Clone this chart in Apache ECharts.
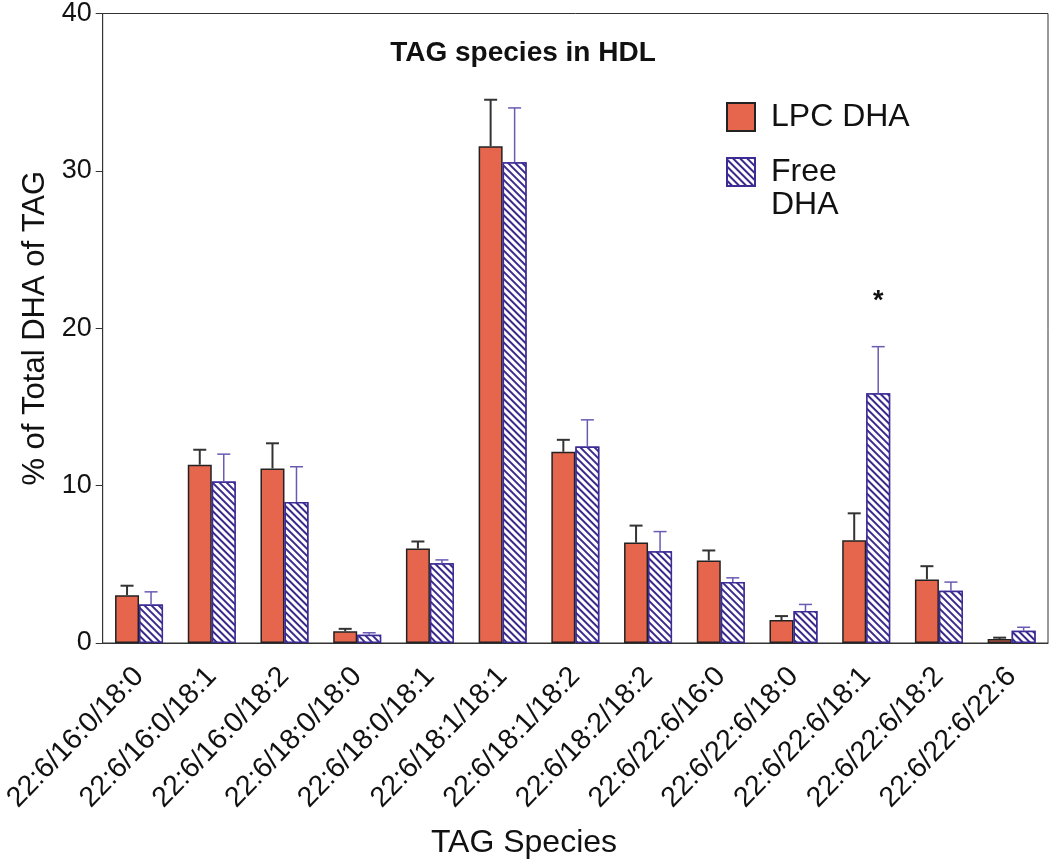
<!DOCTYPE html>
<html>
<head>
<meta charset="utf-8">
<script src="https://cdn.jsdelivr.net/npm/echarts@6/dist/echarts.min.js"></script>
<style>html,body{margin:0;padding:0;background:#fff;}#c{width:1050px;height:865px;}</style>
</head>
<body>
<div id="c"></div>
<script>
const categories = ['22:6/16:0/18:0','22:6/16:0/18:1','22:6/16:0/18:2','22:6/18:0/18:0','22:6/18:0/18:1','22:6/18:1/18:1','22:6/18:1/18:2','22:6/18:2/18:2','22:6/22:6/16:0','22:6/22:6/18:0','22:6/22:6/18:1','22:6/22:6/18:2','22:6/22:6/22:6'];
const lpcMean  = [3.04, 11.33, 11.09, 0.74, 6.00, 31.57, 12.15, 6.38, 5.24, 1.46, 6.53, 4.04, 0.25];
const lpcErr   = [0.60, 0.95, 1.60, 0.16, 0.45, 2.95, 0.76, 1.08, 0.64, 0.25, 1.71, 0.84, 0.09];
const freeMean = [2.45, 10.27, 8.96, 0.53, 5.07, 30.55, 12.49, 5.83, 3.87, 2.03, 15.87, 3.32, 0.78];
const freeErr  = [0.80, 1.73, 2.24, 0.12, 0.21, 3.45, 1.69, 1.25, 0.27, 0.42, 2.96, 0.55, 0.22];
const significance = ['', '', '', '', '', '', '', '', '', '', '*', '', ''];
const yTicks = [0, 10, 20, 30, 40];

const FONT = "'Liberation Sans', Arial, sans-serif";
const chart = echarts.init(document.getElementById('c'), null, {renderer: 'canvas'});

function errRenderer(offset, color, lw) {
  return function (params, api) {
    const i = api.value(0), m = api.value(1), e = api.value(2);
    const mark = significance[i] && offset > 0 ? significance[i] : '';
    const base = api.coord([i, m]);
    const top = api.coord([i, m + e]);
    const x = base[0] + offset;
    const children = [
      {type: 'line', shape: {x1: x, y1: base[1], x2: x, y2: top[1]}, style: {stroke: color, lineWidth: lw}},
      {type: 'line', shape: {x1: x - 6.5, y1: top[1], x2: x + 6.5, y2: top[1]}, style: {stroke: color, lineWidth: lw}}
    ];
    if (mark) {
      children.push({type: 'text', style: {text: mark, x: x, y: top[1] - 45, align: 'center', verticalAlign: 'middle',
        font: 'bold 27px ' + FONT, fill: '#111'}});
    }
    return {type: 'group', children: children};
  };
}

const option = {
  backgroundColor: '#fff',
  animation: false,
  title: [
    {text: 'TAG species in HDL', left: 518, top: 34, textAlign: 'center',
     textStyle: {fontFamily: FONT, fontWeight: 'bold', fontSize: 28, color: '#111'}},
    {text: 'TAG Species', left: 519, top: 822, textAlign: 'center',
     textStyle: {fontFamily: FONT, fontWeight: 'normal', fontSize: 32, color: '#111'}}
  ],
  legend: {
    orient: 'vertical', left: 726, top: 100.5, padding: 0, itemWidth: 28, itemHeight: 28, itemGap: -11,
    icon: 'rect',
    textStyle: {fontFamily: FONT, fontSize: 32, color: '#111', lineHeight: 33, padding: [0, 0, 0, 11]},
    data: [{name: 'LPC DHA'}, {name: 'Free DHA'}],
    formatter: function (n) { return n === 'Free DHA' ? '\nFree\nDHA' : n; }
  },
  grid: {left: 101, right: 2, top: 12, bottom: 222, show: true, borderColor: '#333', borderWidth: 1, backgroundColor: 'transparent'},
  xAxis: {
    type: 'category', data: categories,
    axisLine: {lineStyle: {color: '#333', width: 1}},
    axisTick: {alignWithLabel: true, length: 8, lineStyle: {color: '#333'}},
    axisLabel: {rotate: 46, interval: 0, fontSize: 28.5, fontFamily: FONT, color: '#111', margin: 29}
  },
  yAxis: {
    type: 'value', min: 0, max: 40, interval: 10,
    name: '% of Total DHA of TAG', nameLocation: 'middle', nameGap: 45, nameRotate: 90,
    nameTextStyle: {fontFamily: FONT, fontSize: 31, color: '#111'},
    axisLine: {show: true, lineStyle: {color: '#333', width: 1}},
    axisTick: {show: true, length: 7, lineStyle: {color: '#333'}},
    splitLine: {show: false},
    axisLabel: {fontSize: 27, fontFamily: FONT, color: '#111', margin: 11,
      formatter: function (v) { return yTicks.indexOf(v) >= 0 ? String(v) : ''; }}
  },
  series: [
    {name: 'LPC DHA', type: 'bar', data: lpcMean, barWidth: 24, barGap: '0%',
     itemStyle: {color: '#e6654d', borderColor: '#222', borderWidth: 1.5}},
    {name: 'Free DHA', type: 'bar', data: freeMean, barWidth: 24, barGap: '0%',
     itemStyle: {color: '#ffffff', borderColor: '#3d2b96', borderWidth: 1.5,
       decal: {symbol: 'rect', symbolSize: 1, dashArrayX: [[1, 0]], dashArrayY: [2, 3],
               rotation: Math.PI / 4, color: '#3b2a8c', backgroundColor: '#ffffff'}}},
    {name: 'LPC err', type: 'custom', z: 5, renderItem: errRenderer(-12, '#333', 2),
     data: lpcMean.map((m, i) => [i, m, lpcErr[i]])},
    {name: 'Free err', type: 'custom', z: 5, renderItem: errRenderer(12, '#6a5ab2', 1.5),
     data: freeMean.map((m, i) => [i, m, freeErr[i]])}
  ]
};
chart.setOption(option);
</script>
</body>
</html>
